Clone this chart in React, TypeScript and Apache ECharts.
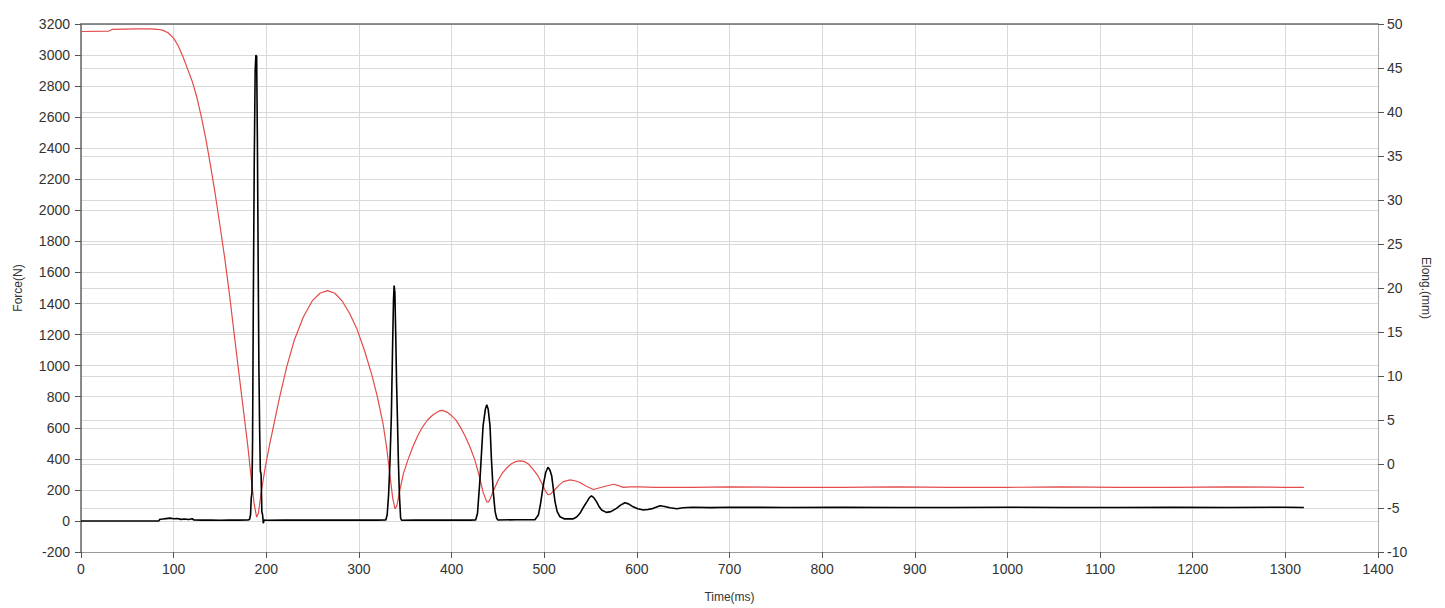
import React, { useEffect, useRef } from "react";
import * as echarts from "echarts";

// Force (N) vs time (ms) – left axis
const forceTime: number[] = [
  0, 84, 85, 88, 92, 96, 100, 104, 108, 112, 116, 120, 122, 130, 140, 150, 160, 170, 180, 182,
  183, 183.8, 184.5, 185.2, 186, 187, 188, 188.8, 189.6, 190.4, 191.2, 192, 192.8, 193.6, 194.4, 195.2, 196, 196.8, 197.6,
  200, 220, 240, 260, 280, 300, 320, 329, 330.5, 332, 333.5, 335, 336.2, 337.3, 338, 338.8, 339.7, 340.6, 341.5, 342.6, 343.7, 345, 346,
  360, 380, 400, 420, 426, 428, 430.7, 434, 436.5, 438, 439.5, 441.5, 443, 445, 447, 448.7, 450,
  470, 490, 493.7, 496, 499, 501.5, 504, 506, 508, 510, 511.7, 514, 517, 522, 531, 535, 538.6, 542, 546, 549, 551, 553.5,
  556.6, 559, 562, 567, 572, 578, 582, 587, 591, 596, 601, 607, 612, 617.8, 625, 630, 635.8, 643, 650, 660, 680,
  700, 760, 820, 880, 940, 1000, 1060, 1120, 1180, 1240, 1300, 1320,
];
const forceValue: number[] = [
  0, 0, 10, 12, 15, 18, 14, 16, 10, 13, 9, 14, 6, 5, 6, 4, 6, 5, 6, 10,
  40, 150, 180, 520, 1400, 2300, 2900, 3000, 2990, 2450, 1700, 1000, 600, 320, 300, 60, 40, -15, 5,
  4, 6, 5, 6, 5, 6, 5, 6, 40, 166, 380, 676, 1080, 1420, 1516, 1470, 1207, 900, 676, 380, 166, 19, 4,
  6, 5, 6, 5, 6, 50, 272, 612, 720, 748, 720, 612, 400, 187, 60, 17, 6,
  8, 8, 38, 110, 230, 310, 346, 330, 293, 200, 123, 60, 27, 13, 13, 25, 49, 85, 123, 152, 161, 150,
  123, 95, 70, 55, 60, 81, 100, 117, 110, 91, 78, 70, 74, 81, 98, 93, 85, 78, 85, 88, 86,
  88, 87, 88, 87, 87, 88, 87, 87, 88, 87, 88, 87,
];

// Elongation (mm) vs time (ms) – right axis
const elongTime: number[] = [
  0, 30, 34, 60, 75, 82, 88, 94, 100, 105, 110, 115, 120, 125, 130, 135, 140, 145, 150, 155, 160, 165, 170, 175, 180,
  184.2, 187, 189.6, 191.5, 193, 195, 199, 203, 207, 214, 222, 230, 240, 250, 258, 266, 274, 282, 290, 298, 306, 314,
  320, 326, 330, 333.6, 336.5, 339, 341, 342.5, 344.3, 348, 353, 358, 363, 368, 374, 380, 386, 390, 395, 400, 405,
  410, 415, 420, 425, 430, 434, 438, 440, 442, 445, 450, 455, 460, 465, 470, 474, 478, 483, 488, 493, 497, 501,
  504, 507, 511.7, 516, 520.6, 528, 533, 538.6, 545, 553, 560, 567, 575, 580, 585, 593, 603, 620,
  660, 700, 760, 820, 880, 940, 1000, 1060, 1120, 1180, 1240, 1300, 1320,
];
const elongValue: number[] = [
  49.15, 49.2, 49.4, 49.45, 49.45, 49.4, 49.3, 49.0, 48.4, 47.5, 46.3, 44.9, 43.5, 41.7, 39.4, 36.8, 33.8, 30.6, 27.1, 23.5, 19.5, 15.1, 10.7, 6.4, 2.1,
  -2.1, -4.6, -6.05, -5.6, -4.4, -2.9, -0.3, 1.9, 3.9, 7.4, 11.0, 14.0, 16.7, 18.6, 19.4, 19.7, 19.4, 18.5, 17.1, 15.3, 12.9, 10.1,
  7.6, 4.6, 1.8, -1.4, -3.9, -5.1, -4.7, -3.9, -2.9, -1.1, 0.5, 1.9, 3.1, 4.1, 5.0, 5.6, 6.0, 6.1, 5.9, 5.5, 4.95,
  4.1, 3.1, 1.9, 0.5, -1.4, -3.2, -4.3, -4.3, -3.9, -3.1, -1.9, -1.0, -0.4, 0.05, 0.3, 0.35, 0.3, 0.0, -0.6, -1.3, -2.1, -3.0,
  -3.5, -3.4, -2.9, -2.4, -2.0, -1.8, -1.9, -2.1, -2.5, -2.9, -2.7, -2.5, -2.3, -2.45, -2.65, -2.6, -2.6, -2.65,
  -2.65, -2.6, -2.65, -2.65, -2.6, -2.65, -2.65, -2.6, -2.65, -2.65, -2.6, -2.65, -2.65,
];

const xTicks = { min: 0, max: 1400, interval: 100 };
const forceTicks = { min: -200, max: 3200, interval: 200 };
const elongTicks = { min: -10, max: 50, interval: 5 };

const FONT = "'Liberation Sans', Arial, sans-serif";

export default function App() {
  const ref = useRef<HTMLDivElement>(null);

  useEffect(() => {
    if (!ref.current) return;
    const chart = echarts.init(ref.current, undefined, { renderer: "svg" });
    const forceData = forceTime.map((t, i) => [t, forceValue[i]]);
    const elongData = elongTime.map((t, i) => [t, elongValue[i]]);
    const plain = (v: number) => String(v);
    const label = { color: "#333", fontSize: 14, fontFamily: FONT, formatter: plain };
    const split = { show: true, lineStyle: { color: "#d9d9d9", width: 1 } };

    chart.setOption({
      animation: false,
      backgroundColor: "#fff",
      grid: { left: 81, right: 67, top: 24, bottom: 50, containLabel: false },
      xAxis: [
        {
          type: "value",
          ...xTicks,
          position: "bottom",
          name: "Time(ms)",
          nameLocation: "middle",
          nameGap: 39,
          nameTextStyle: { color: "#333", fontSize: 12, fontFamily: FONT },
          axisLine: { show: true, onZero: false, lineStyle: { color: "#9a9a9a", width: 1 } },
          axisTick: { show: true, length: 6, lineStyle: { color: "#555" } },
          axisLabel: { ...label, margin: 10 },
          splitLine: split,
        },
        {
          type: "value",
          ...xTicks,
          position: "top",
          axisLine: { show: true, onZero: false, lineStyle: { color: "#6a6a6a", width: 1.5 } },
          axisTick: { show: false },
          axisLabel: { show: false },
          splitLine: { show: false },
        },
      ],
      yAxis: [
        {
          type: "value",
          ...forceTicks,
          position: "left",
          name: "Force(N)",
          nameLocation: "middle",
          nameGap: 57,
          nameTextStyle: { color: "#333", fontSize: 12, fontFamily: FONT },
          axisLine: { show: true, onZero: false, lineStyle: { color: "#666", width: 1.5 } },
          axisTick: { show: true, length: 6, lineStyle: { color: "#555" } },
          axisLabel: { ...label, margin: 11 },
          splitLine: split,
        },
        {
          type: "value",
          ...elongTicks,
          position: "right",
          name: "Elong.(mm)",
          nameLocation: "middle",
          nameRotate: -90,
          nameGap: 42,
          nameTextStyle: { color: "#333", fontSize: 12, fontFamily: FONT },
          axisLine: { show: true, onZero: false, lineStyle: { color: "#b0b0b0", width: 1 } },
          axisTick: { show: true, length: 6, lineStyle: { color: "#555" } },
          axisLabel: { ...label, margin: 9 },
          splitLine: split,
        },
      ],
      series: [
        {
          type: "line",
          name: "Elong",
          yAxisIndex: 1,
          xAxisIndex: 0,
          data: elongData,
          showSymbol: false,
          symbol: "none",
          lineStyle: { color: "#e34a4a", width: 1.2 },
          z: 2,
        },
        {
          type: "line",
          name: "Force",
          yAxisIndex: 0,
          xAxisIndex: 0,
          data: forceData,
          showSymbol: false,
          symbol: "none",
          lineStyle: { color: "#000", width: 1.6 },
          z: 3,
        },
      ],
    });
    return () => chart.dispose();
  }, []);

  return (
    <div
      ref={ref}
      style={{ position: "fixed", left: 0, top: 0, width: 1445, height: 608, background: "#fff" }}
    />
  );
}
